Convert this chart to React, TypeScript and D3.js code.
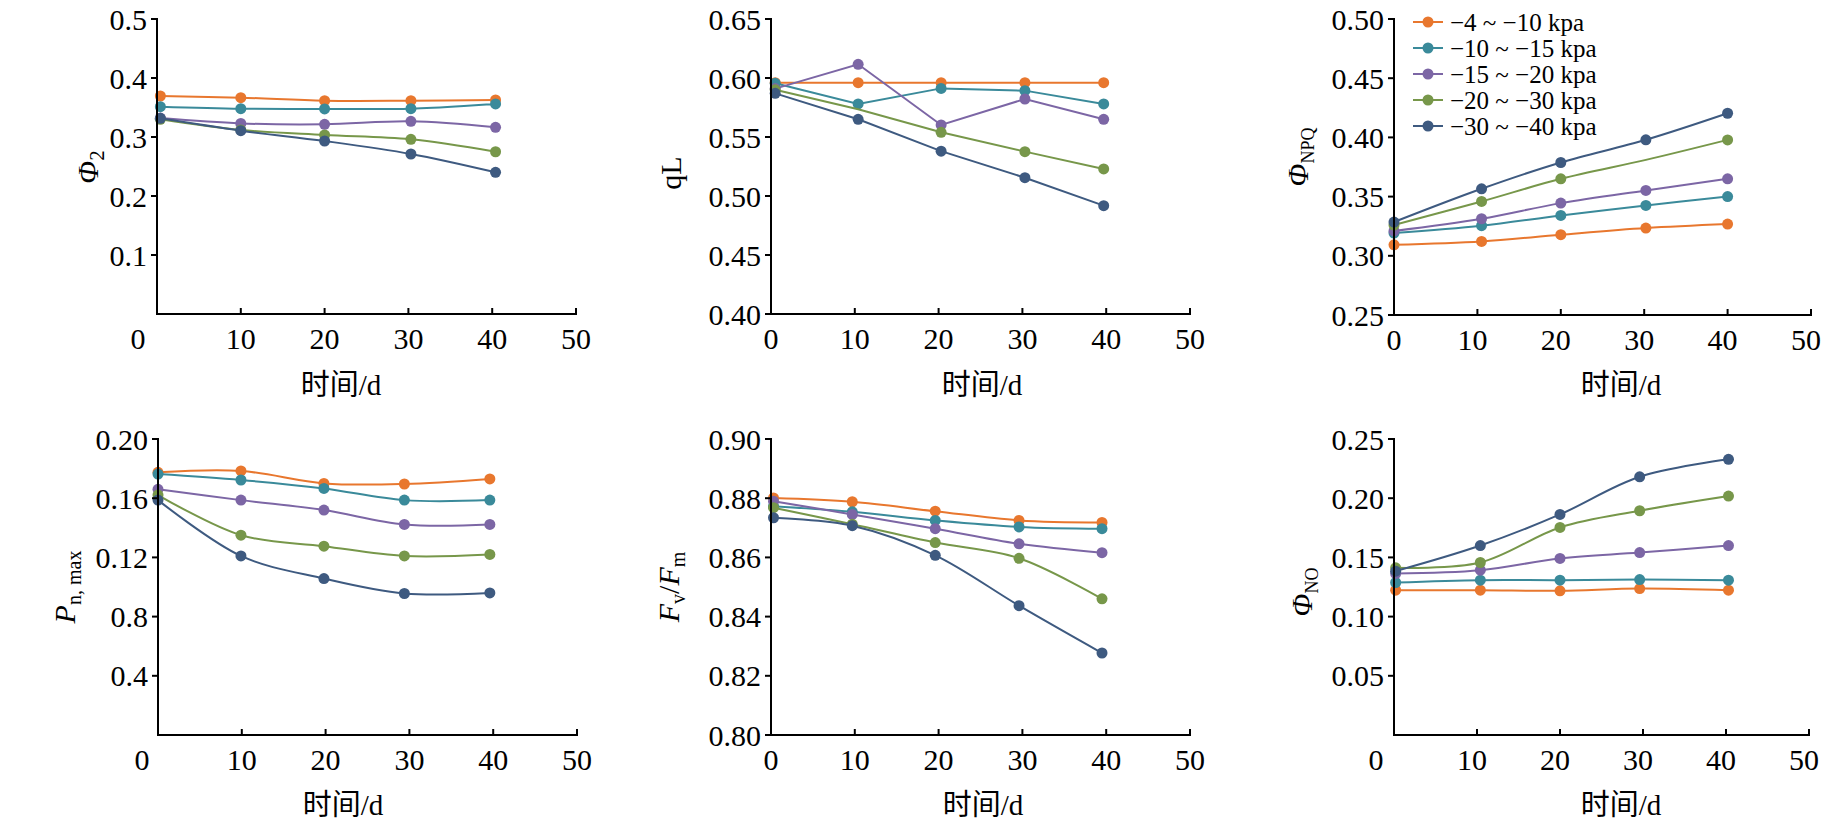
import React from 'react';
import * as d3 from 'd3';

const seriesNames = ['−4 ~ −10 kpa', '−10 ~ −15 kpa', '−15 ~ −20 kpa', '−20 ~ −30 kpa', '−30 ~ −40 kpa'];
const seriesColors = ['#e8772e', '#3a8a9a', '#7c66a5', '#77974a', '#3e5a80'];
const xTicks = [0, 10, 20, 30, 40, 50];

// Φ2
const phi2Days = [0.4, 10, 20, 30.3, 40.4];
const phi2Values = [
  [0.3695, 0.3667, 0.3616, 0.3616, 0.3627],
  [0.3514, 0.348, 0.3475, 0.348, 0.356],
  [0.332, 0.323, 0.3215, 0.3266, 0.3164],
  [0.33, 0.312, 0.3034, 0.296, 0.275],
  [0.3316, 0.3107, 0.2932, 0.2712, 0.2401],
];
const phi2Ticks = [0.1, 0.2, 0.3, 0.4, 0.5];
const phi2TickLabels = ['0.1', '0.2', '0.3', '0.4', '0.5'];

// qL
const qLDays = [0.5, 10.4, 20.3, 30.3, 39.7];
const qLValues = [
  [0.596, 0.596, 0.596, 0.596, 0.596],
  [0.5955, 0.578, 0.5912, 0.5893, 0.578],
  [0.591, 0.6116, 0.5602, 0.5822, 0.565],
  [0.59, 0.5735, 0.554, 0.5376, 0.5229],
  [0.587, 0.565, 0.538, 0.5155, 0.4918],
];
const qLTicks = [0.4, 0.45, 0.5, 0.55, 0.6, 0.65];
const qLTickLabels = ['0.40', '0.45', '0.50', '0.55', '0.60', '0.65'];

// ΦNPQ
const npqDays = [0, 10.5, 20, 30.2, 40];
const npqValues = [
  [0.3093, 0.3121, 0.3178, 0.3234, 0.3268],
  [0.3192, 0.3254, 0.3341, 0.3425, 0.35],
  [0.321, 0.3313, 0.3445, 0.3552, 0.365],
  [0.326, 0.3459, 0.365, 0.381, 0.3979],
  [0.3285, 0.3566, 0.3788, 0.398, 0.4204],
];
const npqTicks = [0.25, 0.3, 0.35, 0.4, 0.45, 0.5];
const npqTickLabels = ['0.25', '0.30', '0.35', '0.40', '0.45', '0.50'];

// Pn,max
const pnDays = [0, 9.9, 19.8, 29.4, 39.6];
const pnValues = [
  [0.1775, 0.1784, 0.17, 0.1696, 0.173],
  [0.1763, 0.1723, 0.1666, 0.1587, 0.1587],
  [0.166, 0.1587, 0.152, 0.1423, 0.1423],
  [0.1621, 0.135, 0.1276, 0.121, 0.122],
  [0.1587, 0.121, 0.1057, 0.0956, 0.096],
];
const pnTicks = [0.04, 0.08, 0.12, 0.16, 0.2];
const pnTickLabels = ['0.4', '0.8', '0.12', '0.16', '0.20'];

// Fv/Fm
const fvDays = [0.3, 9.7, 19.6, 29.6, 39.5];
const fvValues = [
  [0.8801, 0.8788, 0.8756, 0.8725, 0.8718],
  [0.8773, 0.8754, 0.8725, 0.8703, 0.8697],
  [0.879, 0.8745, 0.8697, 0.8646, 0.8616],
  [0.8768, 0.8712, 0.865, 0.8597, 0.846],
  [0.8734, 0.8707, 0.8607, 0.8437, 0.8277],
];
const fvTicks = [0.8, 0.82, 0.84, 0.86, 0.88, 0.9];
const fvTickLabels = ['0.80', '0.82', '0.84', '0.86', '0.88', '0.90'];

// ΦNO
const noDays = [0.2, 10.4, 20, 29.6, 40.3];
const noValues = [
  [0.1223, 0.1223, 0.1218, 0.1237, 0.1223],
  [0.1288, 0.1308, 0.1308, 0.1313, 0.1308],
  [0.1364, 0.1392, 0.1491, 0.1541, 0.16],
  [0.1412, 0.1457, 0.1753, 0.1894, 0.2018],
  [0.1384, 0.16, 0.1863, 0.2181, 0.2328],
];
const noTicks = [0.05, 0.1, 0.15, 0.2, 0.25];
const noTickLabels = ['0.05', '0.10', '0.15', '0.20', '0.25'];

const serif = "'Liberation Serif', 'Times New Roman', serif";
const cjk = "'Liberation Serif', 'Noto Sans CJK SC', serif";

type PanelProps = {
  left: number;
  top: number;
  width: number;
  height: number;
  days: number[];
  values: number[][];
  yDomain: [number, number];
  yTicks: number[];
  yTickLabels: string[];
  smooth: boolean;
  zeroShift: number;
  tickShift?: number;
  yLabel: React.ReactNode;
  yLabelX: number;
  yLabelY: number;
  xLabelX: number;
  xLabelY: number;
  skip?: [number, number][];
  legend?: boolean;
};

const Panel = (p: PanelProps) => {
  const x = d3.scaleLinear().domain([0, 50]).range([p.left, p.left + p.width]);
  const y = d3.scaleLinear().domain(p.yDomain).range([p.top + p.height, p.top]);
  const line = d3
    .line<[number, number]>()
    .x((d) => x(d[0]))
    .y((d) => y(d[1]))
    .curve(p.smooth ? d3.curveCatmullRom.alpha(0.5) : d3.curveLinear);
  const bottom = p.top + p.height;
  const skipped = (s: number, i: number) => (p.skip || []).some((k) => k[0] === s && k[1] === i);

  return (
    <g>
      {p.values.map((vals, s) => (
        <g key={s}>
          <path
            d={line(vals.map((v, i) => [p.days[i], v] as [number, number])) || ''}
            fill="none"
            stroke={seriesColors[s]}
            strokeWidth={2}
          />
          {vals.map((v, i) =>
            skipped(s, i) ? null : (
              <circle key={i} cx={x(p.days[i])} cy={y(v)} r={5.5} fill={seriesColors[s]} />
            )
          )}
        </g>
      ))}

      {/* axes */}
      <line x1={p.left} x2={p.left} y1={p.top - 1} y2={bottom + 1} stroke="#000" strokeWidth={2} />
      <line x1={p.left} x2={p.left + p.width + 1} y1={bottom} y2={bottom} stroke="#000" strokeWidth={2} />
      {p.yTicks.map((t, i) => (
        <g key={t}>
          <line x1={p.left - 6} x2={p.left} y1={y(t)} y2={y(t)} stroke="#000" strokeWidth={2} />
          <text x={p.left - 10} y={y(t)} dy="0.35em" textAnchor="end" fontFamily={serif} fontSize={30}>
            {p.yTickLabels[i]}
          </text>
        </g>
      ))}
      {xTicks.map((t) => (
        <g key={t}>
          {t > 0 && <line x1={x(t)} x2={x(t)} y1={bottom - 6} y2={bottom} stroke="#000" strokeWidth={2} />}
          <text
            x={x(t) + (t === 0 ? p.zeroShift : p.tickShift || 0)}
            y={bottom + 35}
            textAnchor="middle"
            fontFamily={serif}
            fontSize={30}
          >
            {t}
          </text>
        </g>
      ))}

      <text
        transform={`translate(${p.yLabelX},${p.yLabelY}) rotate(-90)`}
        textAnchor="middle"
        dy="0.35em"
        fontFamily={serif}
        fontSize={30}
      >
        {p.yLabel}
      </text>
      <text x={p.xLabelX} y={p.xLabelY} textAnchor="middle" fontFamily={cjk} fontSize={29}>
        时间/d
      </text>

      {p.legend &&
        seriesNames.map((name, s) => {
          const ly = p.top + 3 + s * 26;
          return (
            <g key={name}>
              <line x1={p.left + 19} x2={p.left + 49} y1={ly} y2={ly} stroke={seriesColors[s]} strokeWidth={2} />
              <circle cx={p.left + 34} cy={ly} r={5.5} fill={seriesColors[s]} />
              <text x={p.left + 56} y={ly} dy="0.35em" fontFamily={serif} fontSize={25}>
                {name}
              </text>
            </g>
          );
        })}
    </g>
  );
};

const Phi = () => <tspan fontStyle="italic">Φ</tspan>;

const App = () => {
  const W = 419;
  const H = 295;
  return (
    <svg width={1823} height={826} style={{ position: 'absolute', left: 0, top: 0, background: '#fff' }}>
      <Panel
        left={157}
        top={19}
        width={W}
        height={H}
        days={phi2Days}
        values={phi2Values}
        yDomain={[0, 0.5]}
        yTicks={phi2Ticks}
        yTickLabels={phi2TickLabels}
        smooth
        zeroShift={-19}
        yLabel={
          <>
            <Phi />
            <tspan fontSize={21} dy={6}>2</tspan>
          </>
        }
        yLabelX={87}
        yLabelY={167}
        xLabelX={341}
        xLabelY={395}
      />
      <Panel
        left={771}
        top={19}
        width={W}
        height={H}
        days={qLDays}
        values={qLValues}
        yDomain={[0.4, 0.65]}
        yTicks={qLTicks}
        yTickLabels={qLTickLabels}
        smooth={false}
        zeroShift={0}
        yLabel={<tspan>qL</tspan>}
        yLabelX={670}
        yLabelY={173}
        xLabelX={982}
        xLabelY={395}
        skip={[[3, 1]]}
      />
      <Panel
        left={1394}
        top={19}
        width={417}
        height={296}
        days={npqDays}
        values={npqValues}
        yDomain={[0.25, 0.5]}
        yTicks={npqTicks}
        yTickLabels={npqTickLabels}
        smooth
        zeroShift={0}
        tickShift={-5}
        yLabel={
          <>
            <Phi />
            <tspan fontSize={18} dy={6}>NPQ</tspan>
          </>
        }
        yLabelX={1297}
        yLabelY={157}
        xLabelX={1621}
        xLabelY={395}
        skip={[[3, 3]]}
        legend
      />
      <Panel
        left={158}
        top={439}
        width={W}
        height={296}
        days={pnDays}
        values={pnValues}
        yDomain={[0, 0.2]}
        yTicks={pnTicks}
        yTickLabels={pnTickLabels}
        smooth
        zeroShift={-16}
        yLabel={
          <>
            <tspan fontStyle="italic">P</tspan>
            <tspan fontSize={20} dy={6}>n, max</tspan>
          </>
        }
        yLabelX={64}
        yLabelY={587}
        xLabelX={343}
        xLabelY={815}
      />
      <Panel
        left={771}
        top={439}
        width={W}
        height={296}
        days={fvDays}
        values={fvValues}
        yDomain={[0.8, 0.9]}
        yTicks={fvTicks}
        yTickLabels={fvTickLabels}
        smooth
        zeroShift={0}
        yLabel={
          <>
            <tspan fontStyle="italic">F</tspan>
            <tspan fontSize={20} dy={6}>v</tspan>
            <tspan dy={-6}>/</tspan>
            <tspan fontStyle="italic">F</tspan>
            <tspan fontSize={20} dy={6}>m</tspan>
          </>
        }
        yLabelX={668}
        yLabelY={587}
        xLabelX={983}
        xLabelY={815}
      />
      <Panel
        left={1394}
        top={439}
        width={415}
        height={296}
        days={noDays}
        values={noValues}
        yDomain={[0, 0.25]}
        yTicks={noTicks}
        yTickLabels={noTickLabels}
        smooth
        zeroShift={-18}
        tickShift={-5}
        yLabel={
          <>
            <Phi />
            <tspan fontSize={18} dy={6}>NO</tspan>
          </>
        }
        yLabelX={1301}
        yLabelY={592}
        xLabelX={1621}
        xLabelY={815}
      />
    </svg>
  );
};

export default App;
